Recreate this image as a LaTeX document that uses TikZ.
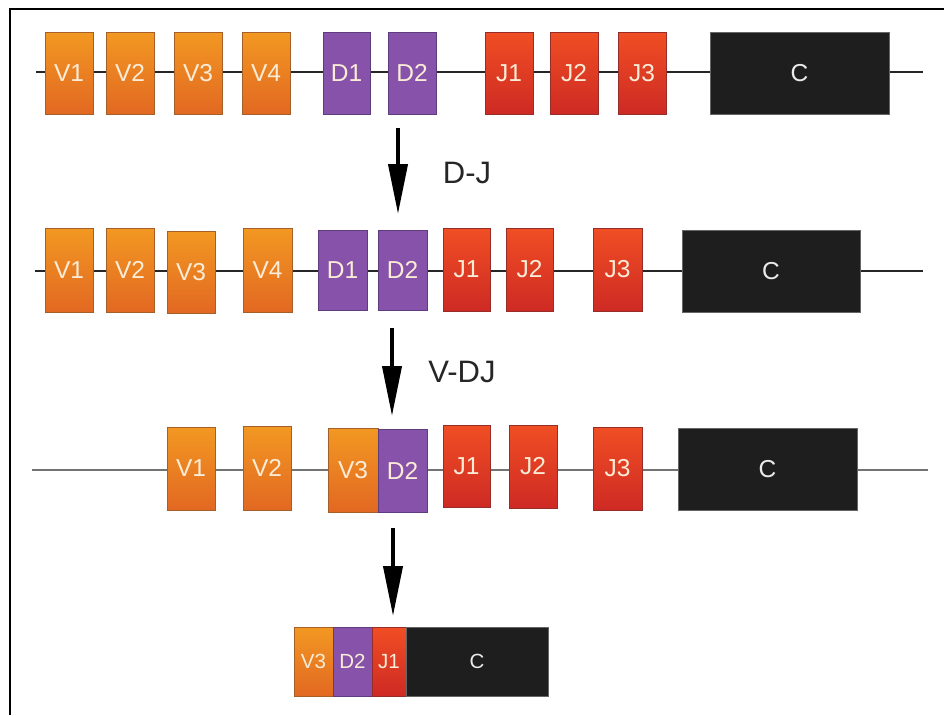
\documentclass[tikz,border=0pt]{standalone}
\usepackage{fontspec}
\setmainfont{Liberation Sans}
\usetikzlibrary{arrows.meta}
\definecolor{orTop}{RGB}{242,152,34}
\definecolor{orBot}{RGB}{226,104,34}
\definecolor{orEdge}{RGB}{165,95,40}
\definecolor{puFill}{RGB}{134,82,170}
\definecolor{puEdge}{RGB}{95,60,125}
\definecolor{reTop}{RGB}{240,78,36}
\definecolor{reBot}{RGB}{206,42,36}
\definecolor{reEdge}{RGB}{150,45,40}
\definecolor{cFill}{RGB}{30,30,30}
\definecolor{txt}{RGB}{250,236,214}
\begin{document}
\begin{tikzpicture}[x=1pt,y=-1pt,
  seg/.style={inner sep=0pt, outer sep=0pt, font=\fontsize{24.5}{24.5}\selectfont, text=txt},
  vbox/.style={seg, top color=orTop, bottom color=orBot, draw=orEdge, line width=0.8pt},
  dbox/.style={seg, fill=puFill, draw=puEdge, line width=0.8pt},
  jbox/.style={seg, top color=reTop, bottom color=reBot, draw=reEdge, line width=0.8pt},
  cbox/.style={seg, fill=cFill, draw=black!60, line width=0.6pt, text=white!92!black},
  small/.style={font=\fontsize{20.5}{20.5}\selectfont},
  chain/.style={draw=black!85, line width=1.8pt},
  chaingray/.style={draw=black!55, line width=2.6pt},
  stepArrow/.style={line width=4pt, -{Triangle[length=50pt, width=19pt]}},
  steplabel/.style={font=\fontsize{31}{31}\selectfont, text=black!85},
  frame/.style={line width=2.6pt}
]
\useasboundingbox (0,0) rectangle (944,715);
% frame
\coordinate (fL) at (10,715);
\coordinate (fC) at (10,9);
\coordinate (fR) at (944,9);
\draw[frame] (fL) -- (fC) -- (fR);

% ---------- row 1 ----------
\coordinate (s1) at (36,72);
\coordinate (e1) at (923,72);
\draw[chain] (s1) -- (e1);
\node[vbox, minimum width=48, minimum height=82] (a1) at (69,73) {V1};
\node[vbox, minimum width=48, minimum height=82] (a2) at (130,73) {V2};
\node[vbox, minimum width=48, minimum height=82] (a3) at (198,73) {V3};
\node[vbox, minimum width=48, minimum height=82] (a4) at (266,73) {V4};
\node[dbox, minimum width=47, minimum height=82] (a5) at (346.5,73) {D1};
\node[dbox, minimum width=48, minimum height=82] (a6) at (412,73) {D2};
\node[jbox, minimum width=48, minimum height=82] (a7) at (509,73) {J1};
\node[jbox, minimum width=48, minimum height=82] (a8) at (574,73) {J2};
\node[jbox, minimum width=48, minimum height=82] (a9) at (642,73) {J3};
\node[cbox, minimum width=179, minimum height=82] (a10) at (799.5,73) {C};

% arrow 1
\coordinate (p1) at (398,128);
\coordinate (q1) at (398,214);
\draw[stepArrow] (p1) -- (q1);
\node[steplabel] (l1) at (467,173) {D-J};

% ---------- row 2 ----------
\coordinate (s2) at (35,271);
\coordinate (e2) at (923,271);
\draw[chain] (s2) -- (e2);
\node[vbox, minimum width=48, minimum height=84] (b1) at (69,270) {V1};
\node[vbox, minimum width=48, minimum height=84] (b2) at (130,270) {V2};
\node[vbox, minimum width=48, minimum height=82] (b3) at (191,272) {V3};
\node[vbox, minimum width=49, minimum height=84] (b4) at (267.5,270) {V4};
\node[dbox, minimum width=49, minimum height=80] (b5) at (342.5,270) {D1};
\node[dbox, minimum width=49, minimum height=80] (b6) at (402.5,270) {D2};
\node[jbox, minimum width=47, minimum height=83] (b7) at (466.5,269.5) {J1};
\node[jbox, minimum width=47, minimum height=83] (b8) at (529.5,269.5) {J2};
\node[jbox, minimum width=49, minimum height=83] (b9) at (617.5,269.5) {J3};
\node[cbox, minimum width=178, minimum height=82] (b10) at (771,271) {C};

% arrow 2
\coordinate (p2) at (392,328);
\coordinate (q2) at (392,416);
\draw[stepArrow] (p2) -- (q2);
\node[steplabel] (l2) at (462,372) {V-DJ};

% ---------- row 3 ----------
\coordinate (s3) at (32,470);
\coordinate (e3) at (928,470);
\draw[chaingray] (s3) -- (e3);
\node[vbox, minimum width=48, minimum height=83] (c1) at (191,468.5) {V1};
\node[vbox, minimum width=48, minimum height=84] (c2) at (267,468) {V2};
\node[vbox, minimum width=50, minimum height=84] (c3) at (353,470) {V3};
\node[dbox, minimum width=49, minimum height=83] (c4) at (402.5,470.5) {D2};
\node[jbox, minimum width=47, minimum height=82] (c5) at (466.5,466) {J1};
\node[jbox, minimum width=48, minimum height=83] (c6) at (533,466.5) {J2};
\node[jbox, minimum width=49, minimum height=83] (c7) at (617.5,468.5) {J3};
\node[cbox, minimum width=179, minimum height=82] (c8) at (767.5,469) {C};

% arrow 3
\coordinate (p3) at (393,528);
\coordinate (q3) at (393,616);
\draw[stepArrow] (p3) -- (q3);

% ---------- row 4 ----------
\node[vbox, small, minimum width=39, minimum height=69] (d1) at (313.5,661.5) {V3};
\node[dbox, small, minimum width=39, minimum height=69] (d2) at (352.5,661.5) {D2};
\node[jbox, small, minimum width=34, minimum height=69] (d3) at (389,661.5) {J1};
\node[cbox, small, minimum width=142, minimum height=69] (d4) at (477,661.5) {C};
\end{tikzpicture}
\end{document}
